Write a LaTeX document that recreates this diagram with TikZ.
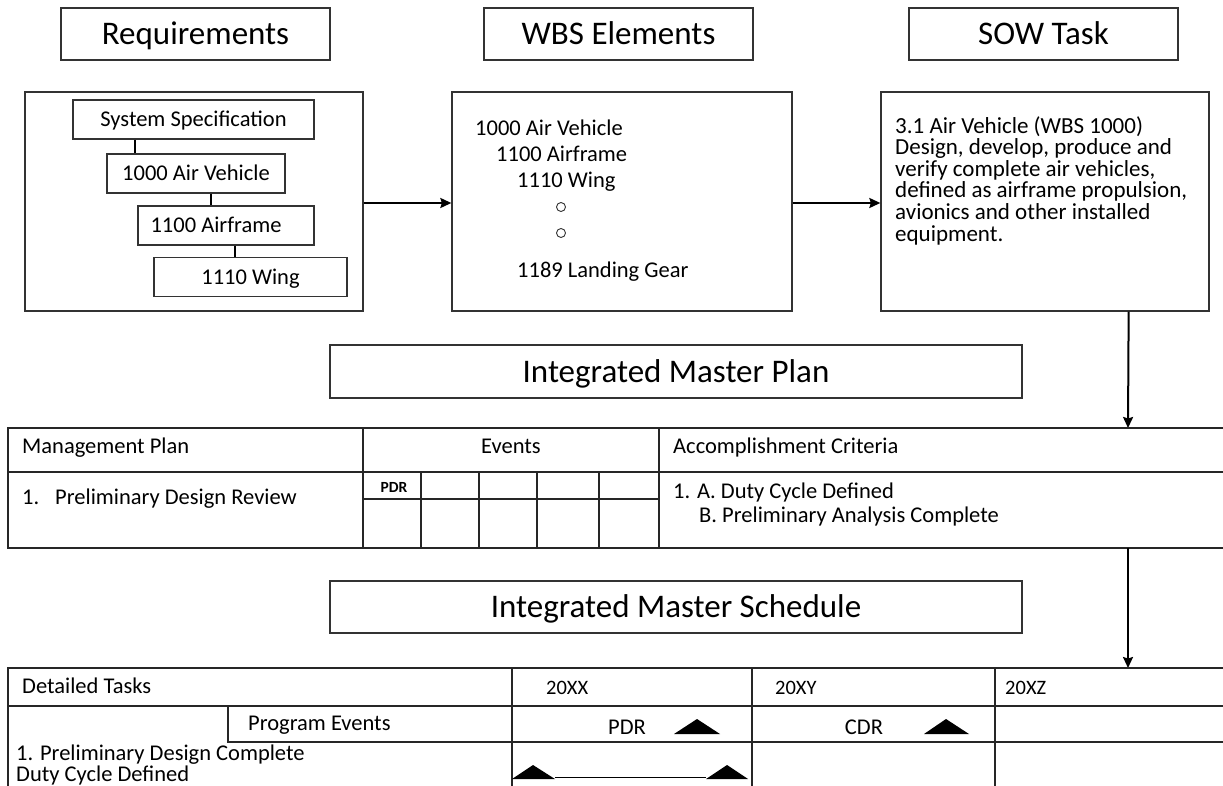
\documentclass[tikz,border=0pt]{standalone}
\usepackage{fontspec}
\setmainfont{Carlito}
\usepackage{tikz}
\usetikzlibrary{calc}
\usetikzlibrary{arrows.meta}
\colorlet{rim}{black!80}
\newcommand\sowfont{\fontsize{23}{21.6}\selectfont\lineskiplimit=-20pt\relax}
\tikzset{
  hdr_box/.style = {draw=rim, line width=1.3pt, inner sep=0pt, minimum height=52pt,
    text height=21pt, text depth=0pt,
    font=\fontsize{33}{40}\selectfont},              % title box
  big_box/.style = {draw=rim, line width=1.3pt, inner sep=0pt,
    minimum height=219pt},                          % outer box
  req_box/.style = {draw=rim, line width=1.3pt, inner sep=0pt, minimum height=39pt,
    text height=14.5pt, text depth=0pt,
    font=\fontsize{22.5}{26}\selectfont},            % requirement box
  txt/.style = {anchor=base west, inner sep=0pt,
    font=\fontsize{22.5}{26}\selectfont},            % plain text
  grid_ln/.style = {draw=black!85, line width=1.3pt},  % table line
  link/.style = {-{Stealth[length=11pt,width=10pt,inset=1.5pt]}, line width=2pt}, % arrow
  gap_dot/.style = {circle, draw=rim, line width=0.9pt, minimum size=9pt,
    inner sep=0pt}                                   % ellipsis mark
}

\begin{document}
\begin{tikzpicture}[x=1pt,y=-1pt]
\useasboundingbox (0,0) rectangle (1223,786);
% titles
\node[hdr_box, minimum width=269pt] (req) at (195.5,34) {Requirements};
\node[hdr_box, minimum width=269pt] (wbs) at (618.5,34) {WBS Elements};
\node[hdr_box, minimum width=269pt] (sow) at (1043.5,34) {SOW Task};
% outer boxes
\node[big_box, minimum width=338pt] (reqbox) at (194,201.5) {};
\node[big_box, minimum width=340pt] (wbsbox) at (622,201.5) {};
\node[big_box, minimum width=328pt] (sowbox) at (1045,201.5) {};
% requirement tree
\node[req_box, minimum width=241pt] (spec) at (193.5,119.5) {System Specification};
\node[req_box, minimum width=178pt] (av) at (196,173.5) {1000 Air Vehicle};
\node[req_box, minimum width=176pt] (af) at (226,225.5) {1100 Airframe\hspace*{20pt}};
\node[req_box, minimum width=193pt] (wing) at (250.5,277) {1110 Wing};
\draw[line width=2pt] ([xshift=63pt]spec.south west) -- ([xshift=29pt]av.north west);
\draw[line width=2pt] ([xshift=105pt]av.south west) -- ([xshift=74pt]af.north west);
\draw[line width=2pt] ([xshift=98pt]af.south west) -- ([xshift=82pt]wing.north west);
% wbs list
\node[txt] (w1) at (475,135.5) {1000 Air Vehicle};
\node[txt] (w2) at (496,162) {1100 Airframe};
\node[txt] (w3) at (517,188) {1110 Wing};
\node[gap_dot] (d1) at (561,207) {};
\node[gap_dot] (d2) at (561,233) {};
\node[txt] (w4) at (517,277) {1189 Landing Gear};
% sow text
\node[anchor=north west, inner sep=0pt, align=left, font=\sowfont] (task) at (895,116)
  {3.1 Air Vehicle (WBS 1000)\\Design, develop, produce and\\verify complete air vehicles,\\defined as airframe propulsion,\\avionics and other installed\\equipment.};
\draw[link] ([yshift=-1.5pt]reqbox.east) -- ([yshift=-1.5pt]wbsbox.west);
\draw[link] ([yshift=-1.5pt]wbsbox.east) -- ([yshift=-1.5pt]sowbox.west);

% master plan
\node[hdr_box, minimum width=692pt, minimum height=53pt] (imp) at (676,371.5) {Integrated Master Plan};
\coordinate (impT) at (1128,428);
\coordinate (impB) at (1128,548);
\draw[link] ([xshift=-81pt]sowbox.south east) -- (impT);
\draw[grid_ln] (1223,428) -- (8,428) -- (8,548) -- (1223,548);
\draw[grid_ln] (8,472) -- (1223,472);
\draw[grid_ln] (363,428) -- (363,548);
\draw[grid_ln] (659,428) -- (659,548);
\draw[grid_ln] (363,499) -- (659,499);
\foreach \x in {421,479,537,599} \draw[grid_ln] (\x,472) -- (\x,548);
\node[txt] (mp) at (22,453) {Management Plan};
\node[txt, anchor=base] (ev) at (511,453) {Events};
\node[txt] (ac) at (673,453) {Accomplishment Criteria};
\node[txt] (pdr) at (22,504) {\makebox[33pt][l]{1.}Preliminary Design Review};
\node[txt, anchor=base, font=\fontsize{15.5}{18}\selectfont\bfseries] (ev1) at (394,492) {PDR};
\node[txt] (ac1) at (673,498) {1. A. Duty Cycle Defined};
\node[txt] (ac2) at (699,522) {B. Preliminary Analysis Complete};

% master schedule
\node[hdr_box, minimum width=692pt] (ims) at (676,607) {Integrated Master Schedule};
\coordinate (imsT) at (1128,668);
\draw[link] (impB) -- (imsT);
\draw[grid_ln] (1223,668) -- (8,668) -- (8,792);
\draw[grid_ln] (8,706) -- (1223,706);
\draw[grid_ln] (228,706) -- (228,742) -- (1223,742);
\foreach \x in {512,752,995} \draw[grid_ln] (\x,668) -- (\x,792);
\node[txt] (dt) at (22,693) {Detailed Tasks};
\node[txt] (pe) at (248,730) {Program Events};
\node[txt] (t1) at (16,760) {1. Preliminary Design Complete};
\node[txt] (t2) at (16,781) {Duty Cycle Defined};
\node[txt, font=\fontsize{20.5}{24}\selectfont] (y1) at (546,694) {20XX};
\node[txt, font=\fontsize{20.5}{24}\selectfont] (y2) at (775,694) {20XY};
\node[txt, font=\fontsize{20.5}{24}\selectfont] (y3) at (1005,694) {20XZ};
\node[txt, anchor=base] (m1) at (627,734) {PDR};
\node[txt, anchor=base] (m2) at (864,734) {CDR};
% milestones
\fill (674,734) -- (697,719) -- (720,734) -- cycle;
\fill (924,734) -- (946,719) -- (969,734) -- cycle;
\fill (512,779) -- (533,765) -- (555,779) -- cycle;
\fill (706,779) -- (727,765) -- (748,779) -- cycle;
\draw[line width=1.5pt] (555,777.5) -- (706,777.5);
\end{tikzpicture}
\end{document}
